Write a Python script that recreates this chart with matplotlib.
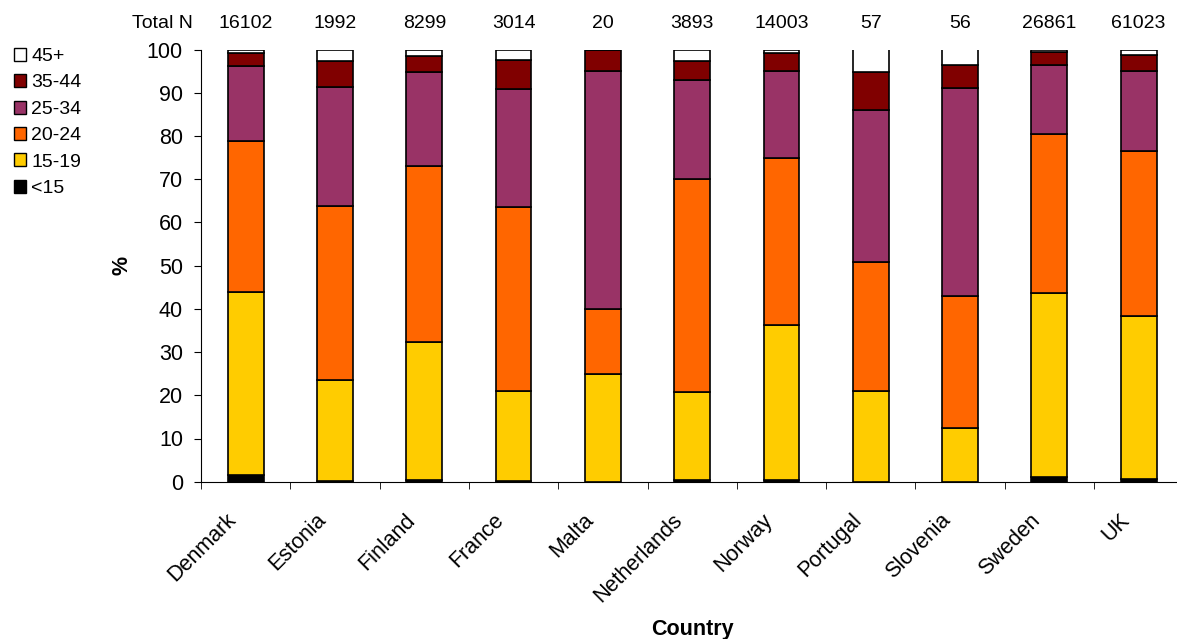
import matplotlib
matplotlib.use("Agg")
import matplotlib.pyplot as plt
import matplotlib.transforms as mtransforms
from matplotlib.patches import Patch
import numpy as np

plt.rcParams['font.family'] = ['Liberation Sans', 'DejaVu Sans']

countries = ["Denmark", "Estonia", "Finland", "France", "Malta", "Netherlands",
             "Norway", "Portugal", "Slovenia", "Sweden", "UK"]
total_n = ["16102", "1992", "8299", "3014", "20", "3893", "14003", "57", "56", "26861", "61023"]

age_groups = ["<15", "15-19", "20-24", "25-34", "35-44", "45+"]
lt15   = [1.5, 0.2, 0.5, 0.2, 0.0, 0.3, 0.3, 0.0, 0.0, 1.0, 0.6]
a15_19 = [42.5, 23.4, 31.8, 20.9, 25.0, 20.5, 35.9, 21.1, 12.5, 42.7, 37.8]
a20_24 = [34.9, 40.3, 40.8, 42.4, 15.0, 49.2, 38.7, 29.8, 30.4, 36.7, 38.2]
a25_34 = [17.3, 27.5, 21.7, 27.5, 55.0, 23.0, 20.2, 35.1, 48.2, 16.1, 18.5]
a35_44 = [3.1, 6.1, 3.7, 6.6, 5.0, 4.4, 4.2, 8.8, 5.4, 2.9, 3.7]
a45p   = [0.7, 2.5, 1.5, 2.4, 0.0, 2.6, 0.7, 5.3, 3.6, 0.6, 1.2]

series = [lt15, a15_19, a20_24, a25_34, a35_44, a45p]
colors = ["#000000", "#FFCC00", "#FF6600", "#993366", "#800000", "#FFFFFF"]

W, H = 1177, 639
fig = plt.figure(figsize=(W / 100, H / 100), dpi=100)
ax = fig.add_axes([201 / W, (H - 481.7) / H, (201 + 11 * 89.3) / W - 201 / W, 432 / H])

x = np.arange(len(countries))
bottom = np.zeros(len(countries))
for vals, col in zip(series, colors):
    ax.bar(x, vals, width=0.4, bottom=bottom, color=col, edgecolor="black", linewidth=1.2)
    bottom += np.array(vals)

ax.set_xlim(-0.5, len(countries) - 0.5)
ax.set_ylim(0, 100)
ax.set_yticks(np.arange(0, 101, 10))
ax.tick_params(axis='y', labelsize=15.5, length=5, direction='out', pad=8)
ax.set_xticks(x)
ax.set_xticklabels(countries, rotation=45, ha='right', va='top',
                   rotation_mode='anchor', fontsize=15.5)
ax.tick_params(axis='x', which='major', length=0, pad=20)
shift = mtransforms.ScaledTranslation(-20 / 100, 0, fig.dpi_scale_trans)
for lbl in ax.get_xticklabels():
    lbl.set_transform(lbl.get_transform() + shift)
ax.set_xticks(np.arange(-0.5, len(countries), 1.0), minor=True)
ax.tick_params(axis='x', which='minor', length=5, direction='out')
for s in ['top', 'right']:
    ax.spines[s].set_visible(False)

fig.text(122 / W, 1 - 265 / H, "%", fontsize=15.5, fontweight='bold',
         rotation=90, ha='center', va='center')
fig.text(692 / W, 1 - 629 / H, "Country", fontsize=15.5, fontweight='bold',
         ha='center', va='center')

trans = mtransforms.blended_transform_factory(ax.transData, fig.transFigure)
for xi, n in zip(x, total_n):
    ax.text(xi, 1 - 23 / H, n, transform=trans, ha='center', va='center', fontsize=14)
fig.text(193 / W, 1 - 23 / H, "Total N", ha='right', va='center', fontsize=14)

handles = [Patch(facecolor=c, edgecolor='black', linewidth=1.0) for c in colors][::-1]
labels = age_groups[::-1]
fig.legend(handles, labels, loc='upper left', bbox_to_anchor=(0.0, 1 - 34 / H),
           frameon=False, fontsize=14, handlelength=0.65, handleheight=0.65,
           handletextpad=0.25, labelspacing=0.47, borderaxespad=0.3)

fig.savefig("out.png", dpi=100)
